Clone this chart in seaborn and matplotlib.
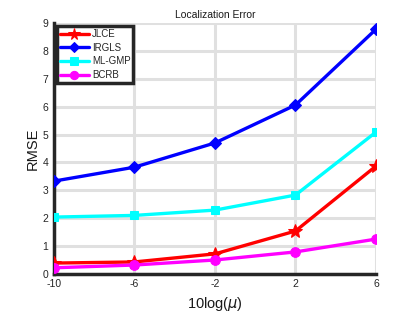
import matplotlib
matplotlib.use("Agg")
import matplotlib.pyplot as plt
import seaborn as sns
import pandas as pd

x_vals = [-10, -6, -2, 2, 6]
jlce = [0.39, 0.43, 0.72, 1.54, 3.87]
irgls = [3.33, 3.83, 4.70, 6.06, 8.78]
mlgmp = [2.04, 2.10, 2.29, 2.83, 5.09]
bcrb = [0.22, 0.32, 0.50, 0.79, 1.25]
series_names = ["JLCE", "IRGLS", "ML-GMP", "BCRB"]

sns.set_style("white")
plt.rcParams['font.family'] = ['Liberation Sans', 'DejaVu Sans']
plt.rcParams['mathtext.fontset'] = 'dejavusans'

rows = []
for name, vals in zip(series_names, [jlce, irgls, mlgmp, bcrb]):
    for xv, yv in zip(x_vals, vals):
        rows.append({"x": xv, "y": yv, "method": name})
df = pd.DataFrame(rows)

fig = plt.figure(figsize=(4.15, 3.12), dpi=100)
ax = fig.add_axes([0.130, 0.122, 0.776, 0.804])

palette = {"JLCE": "#ff0000", "IRGLS": "#0000ff", "ML-GMP": "#00ffff", "BCRB": "#ff00ff"}
markers = {"JLCE": "*", "IRGLS": "D", "ML-GMP": "s", "BCRB": "o"}
msizes = {"JLCE": 10, "IRGLS": 6, "ML-GMP": 6, "BCRB": 7}

for name in series_names:
    sub = df[df.method == name]
    sns.lineplot(data=sub, x="x", y="y", ax=ax, color=palette[name], marker=markers[name],
                 markersize=msizes[name], markeredgecolor=palette[name], linewidth=2.4,
                 label=name, zorder=3)

ax.set_xlim(-10, 6)
ax.set_ylim(0, 9)
ax.set_xticks(x_vals)
ax.set_xticklabels([str(v) for v in x_vals])
ax.set_yticks(range(0, 10))
ax.grid(True, color="#e0e0e0", linewidth=2.2, zorder=0)
ax.set_axisbelow(True)
for s in ["top", "right"]:
    ax.spines[s].set_visible(False)
for s in ["left", "bottom"]:
    ax.spines[s].set_color("#262626")
    ax.spines[s].set_linewidth(2.5)
ax.tick_params(axis="both", direction="in", length=4, width=2.5, color="#262626",
               labelsize=7.5, labelcolor="#262626", pad=4)

ax.set_title("Localization Error", fontsize=7.5, color="#1a1a1a", pad=4)
ax.set_ylabel("RMSE", fontsize=10.5, color="#1a1a1a", labelpad=2)
ax.set_xlabel(r"10log($\mu$)", fontsize=10.5, color="#1a1a1a", labelpad=4)

leg = ax.legend(loc="upper left", fontsize=7, frameon=True, fancybox=False,
                borderpad=0.3, labelspacing=0.38, handlelength=3.0, handletextpad=0.3,
                borderaxespad=0.3, markerscale=0.85, framealpha=1)
leg.get_frame().set_edgecolor("#262626")
leg.get_frame().set_linewidth(2.5)

fig.savefig("out.png", dpi=100)
